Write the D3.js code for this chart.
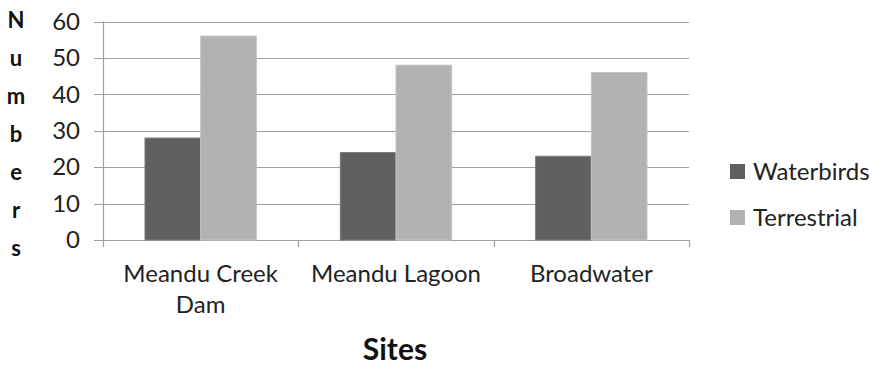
<!DOCTYPE html>
<html>
<head>
<meta charset="utf-8">
<script src="https://cdn.jsdelivr.net/npm/d3@7/dist/d3.min.js"></script>
<style>
  html, body { margin: 0; padding: 0; background: #fff; }
  svg { display: block; font-family: Lato, "Open Sans", sans-serif; }
</style>
</head>
<body>
<svg id="chart" width="879" height="365"></svg>
<script>
// Bird counts per survey site
const sites = ["Meandu Creek Dam", "Meandu Lagoon", "Broadwater"];
const siteLabels = [["Meandu Creek", "Dam"], ["Meandu Lagoon"], ["Broadwater"]];
const seriesNames = ["Waterbirds", "Terrestrial"];
const waterbirds = [28, 24, 23];
const terrestrial = [56, 48, 46];
const yTicks = [0, 10, 20, 30, 40, 50, 60];
const seriesColors = ["#606060", "#b2b2b2"];

const svg = d3.select("#chart");
const plot = { left: 103, right: 689, top: 21.5, bottom: 240 };

const x = d3.scaleBand().domain(sites).range([plot.left, plot.right]).paddingInner(0).paddingOuter(0);
const y = d3.scaleLinear().domain([0, 60]).range([plot.bottom, plot.top]);
const groupWidth = x.bandwidth() * 0.57;
const xs = d3.scaleBand().domain(seriesNames).range([0, groupWidth]).padding(0);
const color = d3.scaleOrdinal().domain(seriesNames).range(seriesColors);

// horizontal gridlines (extend past the axis as outside ticks)
svg.append("g").selectAll("line").data(yTicks).join("line")
  .attr("x1", plot.left - 9).attr("x2", plot.right)
  .attr("y1", d => Math.round(y(d)) + 0.5).attr("y2", d => Math.round(y(d)) + 0.5)
  .attr("stroke", "#a0a0a0").attr("stroke-width", 1.2);

// vertical value axis line
svg.append("line")
  .attr("x1", plot.left + 0.5).attr("x2", plot.left + 0.5)
  .attr("y1", y(60)).attr("y2", plot.bottom)
  .attr("stroke", "#a0a0a0").attr("stroke-width", 1.2);

// category boundary ticks
const boundaries = sites.map(s => x(s)).concat([plot.right]);
svg.append("g").selectAll("line").data(boundaries).join("line")
  .attr("x1", d => Math.round(d) + 0.5).attr("x2", d => Math.round(d) + 0.5)
  .attr("y1", plot.bottom).attr("y2", plot.bottom + 7)
  .attr("stroke", "#a0a0a0").attr("stroke-width", 1.2);

// y tick labels via d3 axis
const yAxis = svg.append("g")
  .attr("transform", `translate(${plot.left},0)`)
  .call(d3.axisLeft(y).tickValues(yTicks).tickSize(0).tickPadding(23));
yAxis.select(".domain").remove();
yAxis.selectAll("text").attr("font-size", 24).attr("fill", "#222")
  .attr("font-family", "Lato, 'Open Sans', sans-serif");

// bars
const rows = sites.map((s, i) => ({ site: s, values: [
  { key: "Waterbirds", value: waterbirds[i] },
  { key: "Terrestrial", value: terrestrial[i] }
]}));

const groups = svg.append("g").selectAll("g").data(rows).join("g")
  .attr("transform", d => `translate(${x(d.site) + (x.bandwidth() - groupWidth) / 2},0)`);

groups.selectAll("rect").data(d => d.values).join("rect")
  .attr("x", d => xs(d.key))
  .attr("width", xs.bandwidth())
  .attr("y", d => y(d.value))
  .attr("height", d => y(0) - y(d.value))
  .attr("fill", d => color(d.key))
  .attr("stroke", d => d.key === "Waterbirds" ? "#7a7a7a" : "#c4c4c4")
  .attr("stroke-width", 1);

// category labels
const catLabels = svg.append("g").selectAll("text").data(sites).join("text")
  .attr("x", d => x(d) + x.bandwidth() / 2)
  .attr("y", 282)
  .attr("text-anchor", "middle")
  .attr("font-size", 24)
  .attr("fill", "#222");
catLabels.each(function(d, i) {
  const t = d3.select(this);
  siteLabels[i].forEach((line, j) => {
    t.append("tspan").attr("x", x(d) + x.bandwidth() / 2).attr("dy", j === 0 ? 0 : 31).text(line);
  });
});

// axis titles
svg.append("text")
  .attr("x", 395).attr("y", 360)
  .attr("text-anchor", "middle")
  .attr("font-size", 30).attr("font-weight", "bold").attr("fill", "#111")
  .text("Sites");

const yTitle = "Numbers".split("");
svg.append("g").selectAll("text").data(yTitle).join("text")
  .attr("x", 16)
  .attr("y", (d, i) => 20 + i * 38)
  .attr("dy", "0.35em")
  .attr("text-anchor", "middle")
  .attr("font-size", 22).attr("font-weight", "bold").attr("fill", "#111")
  .text(d => d);

// legend
const legend = svg.append("g").selectAll("g").data(seriesNames).join("g")
  .attr("transform", (d, i) => `translate(730,${172 + i * 46})`);
legend.append("rect")
  .attr("x", 0).attr("y", -8).attr("width", 15).attr("height", 15)
  .attr("fill", d => color(d));
legend.append("text")
  .attr("x", 23).attr("y", 0).attr("dy", "0.35em")
  .attr("font-size", 24).attr("fill", "#222")
  .text(d => d);
</script>
</body>
</html>
